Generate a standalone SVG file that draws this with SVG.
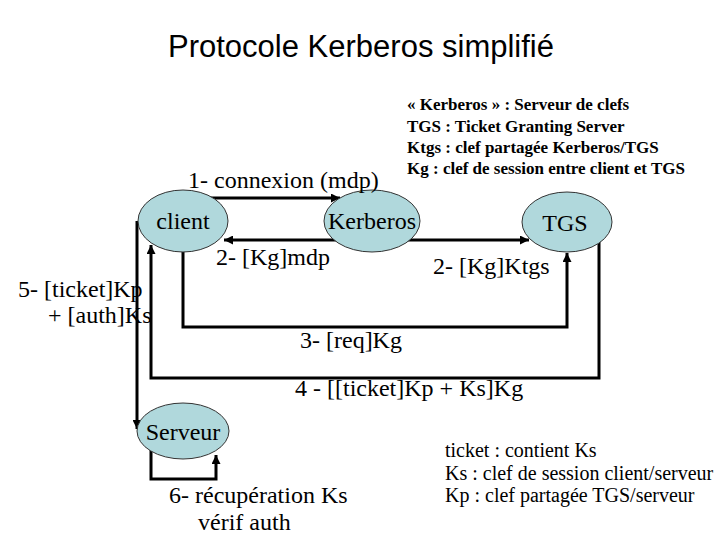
<svg xmlns="http://www.w3.org/2000/svg" width="720" height="540" viewBox="0 0 720 540">
<style>
  .t { font-family: "Liberation Serif", "Times New Roman", serif; font-size: 24px; fill: #000; }
  .leg { font-family: "Liberation Serif", "Times New Roman", serif; font-size: 17px; font-weight: bold; fill: #000; }
  .leg2 { font-family: "Liberation Serif", "Times New Roman", serif; font-size: 20px; fill: #000; }
  .title { font-family: "Liberation Sans", Arial, sans-serif; font-size: 31px; fill: #000; }
  .node ellipse { fill: #b0d8dc; stroke: #333; stroke-width: 1; }
  .c { fill: none; stroke: #000; stroke-width: 3; }
</style>
<defs>
  <marker id="ah" viewBox="0 0 10 10" refX="10" refY="5" markerWidth="3" markerHeight="3" orient="auto" markerUnits="strokeWidth">
    <path d="M0,0 L10,5 L0,10 z" fill="#000"/>
  </marker>
</defs>
<rect width="720" height="540" fill="#fff"/>
<text class="title" x="361" y="57" text-anchor="middle">Protocole Kerberos simplifié</text>

<g id="connectors">
  <path class="c" d="M 205 198 H 340" marker-end="url(#ah)"/>
  <path class="c" d="M 372 240 H 224" marker-end="url(#ah)"/>
  <path class="c" d="M 372 240 H 529" marker-end="url(#ah)"/>
  <path class="c" d="M 183 240 V 327 H 567 V 253" marker-end="url(#ah)"/>
  <path class="c" d="M 599 230 V 378 H 151 V 245" marker-end="url(#ah)"/>
  <path class="c" d="M 137 221 V 429" marker-end="url(#ah)"/>
  <path class="c" d="M 151 445 V 479 H 216 V 455" marker-end="url(#ah)"/>
</g>

<g id="client" class="node">
  <ellipse cx="183" cy="221" rx="45" ry="31"/>
  <text class="t" x="183" y="229" text-anchor="middle">client</text>
</g>
<g id="kerberos" class="node">
  <ellipse cx="372" cy="221" rx="48" ry="31"/>
  <text class="t" x="372" y="229" text-anchor="middle">Kerberos</text>
</g>
<g id="tgs" class="node">
  <ellipse cx="567" cy="222" rx="45" ry="30"/>
  <text class="t" x="565" y="231" text-anchor="middle">TGS</text>
</g>
<g id="serveur" class="node">
  <ellipse cx="183" cy="431" rx="46" ry="28"/>
  <text class="t" x="183" y="440" text-anchor="middle">Serveur</text>
</g>

<g id="labels">
  <text class="t" x="188" y="188">1- connexion (mdp)</text>
  <text class="t" x="216" y="265">2- [Kg]mdp</text>
  <text class="t" x="433" y="274">2- [Kg]Ktgs</text>
  <text class="t" x="300" y="348">3- [req]Kg</text>
  <text class="t" x="295" y="396">4 - [[ticket]Kp + Ks]Kg</text>
  <text class="t" x="18" y="297">5- [ticket]Kp</text>
  <text class="t" x="48" y="323">+ [auth]Ks</text>
  <text class="t" x="169" y="503">6- récupération Ks</text>
  <text class="t" x="198" y="530">vérif auth</text>
</g>

<g id="legend-top">
  <text class="leg" x="407" y="110">« Kerberos » : Serveur de clefs</text>
  <text class="leg" x="407" y="132">TGS : Ticket Granting Server</text>
  <text class="leg" x="407" y="153">Ktgs : clef partagée Kerberos/TGS</text>
  <text class="leg" x="407" y="174">Kg : clef de session entre client et TGS</text>
</g>
<g id="legend-bottom">
  <text class="leg2" x="445" y="457">ticket : contient Ks</text>
  <text class="leg2" x="445" y="480">Ks : clef de session client/serveur</text>
  <text class="leg2" x="445" y="502">Kp : clef partagée TGS/serveur</text>
</g>
</svg>
